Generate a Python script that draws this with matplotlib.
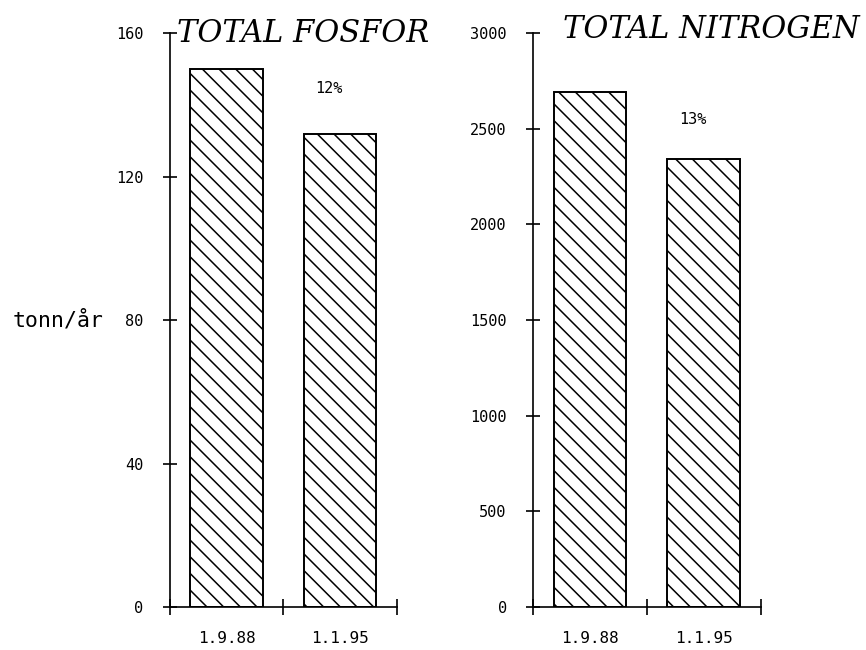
import matplotlib
matplotlib.use("Agg")
import matplotlib.pyplot as plt

dates = ["1.9.88", "1.1.95"]
fosfor = [150, 132]
nitrogen = [2690, 2340]
fosfor_pct = "12%"
nitrogen_pct = "13%"
fosfor_ticks = [0, 40, 80, 120, 160]
nitrogen_ticks = [0, 500, 1000, 1500, 2000, 2500, 3000]

plt.rcParams["hatch.linewidth"] = 1.1
mono = "DejaVu Sans Mono"


def draw_panel(ax, values, yticks, title, pct, pct_y, title_x, title_y):
    pos = [0.5, 1.5]
    ax.bar(pos, values, width=0.64, color="white", edgecolor="black",
           linewidth=1.4, hatch="\\\\")
    ax.set_xlim(0, 2)
    ax.set_ylim(0, yticks[-1])
    for s in ["top", "right"]:
        ax.spines[s].set_visible(False)
    for s in ["left", "bottom"]:
        ax.spines[s].set_linewidth(1.2)

    ax.set_yticks(yticks)
    ax.set_yticklabels([str(t) for t in yticks], fontfamily=mono, fontsize=11)
    ax.tick_params(axis="y", direction="inout", length=10, width=1.2, pad=14)

    ax.set_xticks([0, 1, 2])
    ax.set_xticklabels([])
    ax.set_xticks(pos, minor=True)
    ax.set_xticklabels(dates, minor=True, fontfamily=mono, fontsize=11.5)
    ax.tick_params(axis="x", which="major", direction="inout", length=11, width=1.2)
    ax.tick_params(axis="x", which="minor", length=0, pad=17)

    ax.text(1.4, pct_y, pct, ha="center", va="center", fontfamily=mono, fontsize=11)
    ax.text(title_x, title_y, title, ha="left", va="center", fontfamily="DejaVu Serif",
            fontstyle="italic", fontsize=22, clip_on=False)


fig = plt.figure(figsize=(8.66, 6.5), dpi=100)
ax1 = fig.add_axes([0.196, 0.066, 0.262, 0.883])
ax2 = fig.add_axes([0.6155, 0.066, 0.263, 0.883])

draw_panel(ax1, fosfor, fosfor_ticks, "TOTAL FOSFOR", fosfor_pct, 144.5, 0.06, 160)
draw_panel(ax2, nitrogen, nitrogen_ticks, "TOTAL NITROGEN", nitrogen_pct, 2550, 0.26, 3020)

fig.text(0.015, 0.508, "tonn/år", fontfamily=mono, fontsize=15.5, ha="left", va="center")

fig.savefig("out.png", dpi=100, facecolor="white")
